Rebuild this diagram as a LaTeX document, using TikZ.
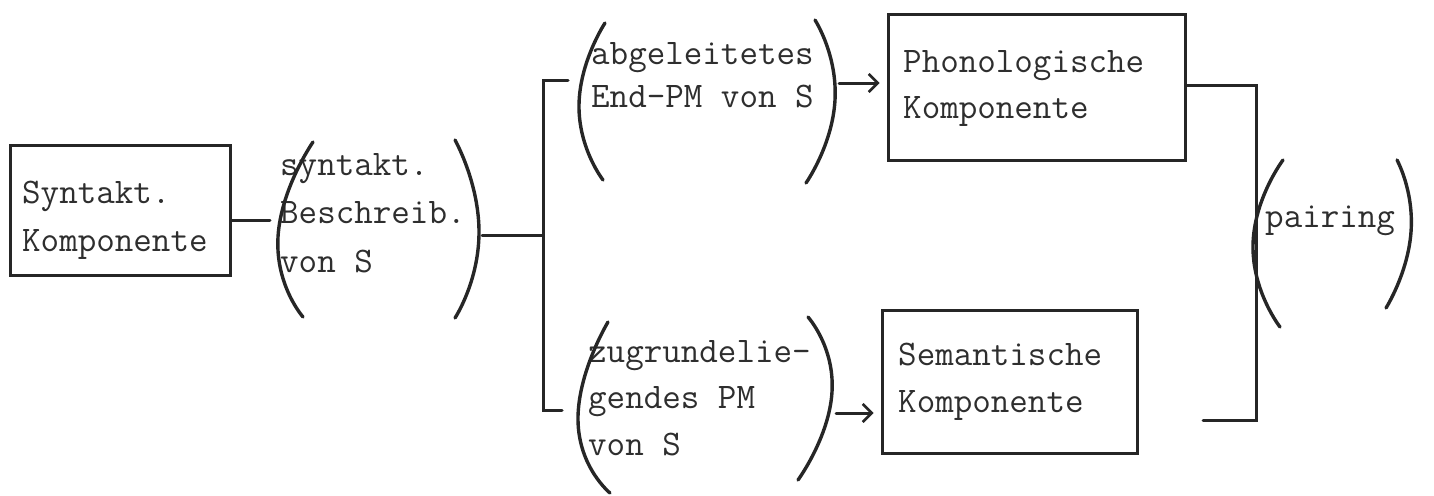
\documentclass[tikz,border=0pt]{standalone}
\usepackage{fontspec}
\usetikzlibrary{arrows.meta,calc}
\newcommand\lns[2]{\fontsize{36}{#1}\selectfont\begin{tabular}[t]{@{}l@{}}#2\end{tabular}}
\begin{document}
\begin{tikzpicture}[x=1pt,y=-1pt,
  ink/.style={line width=3pt, draw=black!85, line cap=round, line join=miter},
  compbox/.style={ink, rectangle, inner sep=0pt},
  txt/.style={inner sep=0pt, anchor=base west, text=black!82, font=\ttfamily},
  parenline/.style={ink, line width=3.4pt},
  arr/.style={ink, -{Straight Barb[length=9pt,width=18pt,line width=2.6pt]}, shorten >=7pt}
]
\useasboundingbox (0,0) rectangle (1434,495);

% boxes
\node[compbox, minimum width=220pt, minimum height=130pt] (syn) at (120,210) {};
\node[compbox, minimum width=297pt, minimum height=145pt] (phon) at (1036.5,87.5) {};
\node[compbox, minimum width=255pt, minimum height=143pt] (sem) at (1009.5,381.5) {};

% texts
\node[txt] (tsyn) at (22,203) {\lns{48}{Syntakt.\\Komponente}};
\node[txt] (tbes) at (280,175) {\lns{48.5}{syntakt.\\Beschreib.\\von S}};
\node[txt] (tabg) at (591,65) {\lns{43}{abgeleitetes\\End-PM von S}};
\node[txt] (tzug) at (588,362) {\lns{46.5}{zugrundelie-\\gendes PM\\von S}};
\node[txt] (tphon) at (903,72) {\lns{46}{Phonologische\\Komponente}};
\node[txt] (tsem) at (898,365) {\lns{47}{Semantische\\Komponente}};
\node[txt] (tpair) at (1265,227) {\lns{46}{pairing}};

% parentheses
\draw[parenline] plot[smooth, tension=1] coordinates {(313,142) (278,237) (303,317)};
\draw[parenline] plot[smooth, tension=1] coordinates {(455,140) (479,232) (455,318)};
\draw[parenline] plot[smooth, tension=1] coordinates {(605,23) (579,105) (603,180)};
\draw[parenline] plot[smooth, tension=1] coordinates {(815,20) (835,100) (806,183)};
\draw[parenline] plot[smooth, tension=1] coordinates {(608,322) (578,420) (610,493)};
\draw[parenline] plot[smooth, tension=1] coordinates {(808,317) (832,392) (798,480)};
\draw[parenline] plot[smooth, tension=1] coordinates {(1283,160) (1253,245) (1280,327)};
\draw[parenline] plot[smooth, tension=1] coordinates {(1397,160) (1411,232) (1386,308)};

% named points on the parentheses and brackets
\coordinate (besL) at (270,220);
\coordinate (besR) at (482,235);
\coordinate (brMid) at (543,235);
\coordinate (brTop) at (543,80);
\coordinate (brTopEnd) at (568,80);
\coordinate (brBot) at (543,410);
\coordinate (brBotEnd) at (562,410);
\coordinate (abgR) at (839,83);
\coordinate (zugR) at (836,413);
\coordinate (prBot) at (1256,420);
\coordinate (prBotEnd) at (1203,420);

% connectors
\draw[ink] ([yshift=-10pt]syn.east) -- (besL);
\draw[ink] (besR) -- (brMid);
\draw[ink] (brTopEnd) -- (brTop) -- (brBot) -- (brBotEnd);
\draw[arr] (abgR) -- (abgR -| phon.west);
\draw[arr] (zugR) -- (zugR -| sem.west);
\draw[ink] ([yshift=2.5pt]phon.east) -| (prBot) -- (prBotEnd);
\end{tikzpicture}
\end{document}
